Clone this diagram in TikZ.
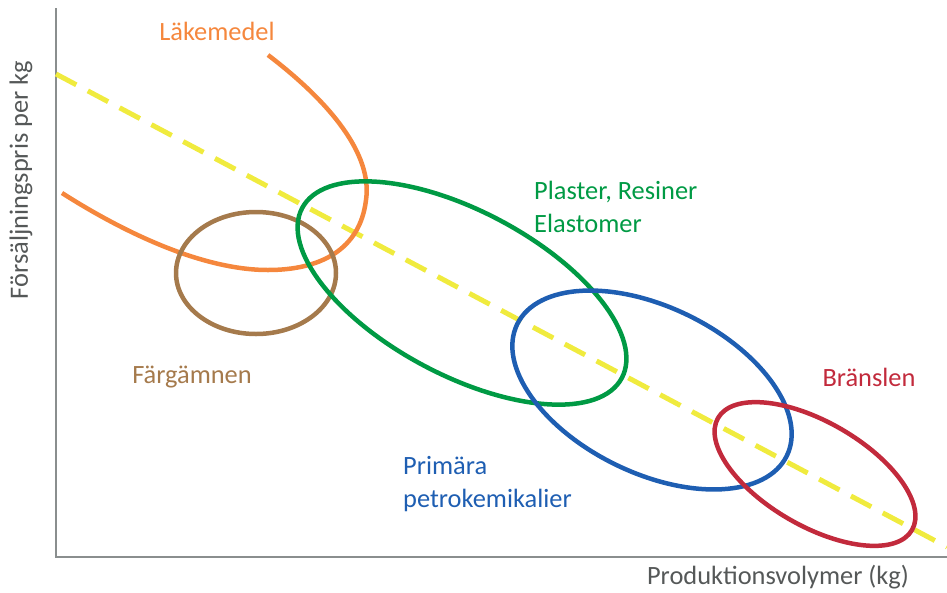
\documentclass[tikz,border=0pt]{standalone}
\usepackage{fontspec}
\setmainfont{Carlito}
\usepackage{xcolor}
\usepackage{tikz}
\usetikzlibrary{positioning,%
  calc%
}

\definecolor{lakorange}{HTML}{F5873D}
\definecolor{plastgreen}{HTML}{009A44}
\definecolor{primblue}{HTML}{1E5EB2}
\definecolor{branred}{HTML}{C22A3C}
\definecolor{fargbrown}{HTML}{A57A4C}
\definecolor{trendyellow}{HTML}{F0EB3E}
\definecolor{axisgray}{HTML}{8A8E8E}
\definecolor{titlegray}{HTML}{555858}

\begin{document}
\begin{tikzpicture}[x=1pt,y=-1pt,
    group/.style={line width=4.5pt},
    grouplabel/.style={font=\fontsize{26.4}{33}\selectfont,inner sep=0pt,align=left},
    axistitle/.style={font=\fontsize{26.4}{30}\selectfont,text=titlegray,inner sep=0pt}]
            \useasboundingbox (0,0) rectangle (947,592);

            % axes
            \coordinate (origin) at (56,557);
            \coordinate (ytop) at (56,8);
            \coordinate (xend) at (947,557);
            \draw [axisgray, line width=1.6pt] (ytop) -- (origin) -- (xend);

            % trend
            \coordinate (trendstart) at (56,74);
            \coordinate (trendend) at (947,547);
            \draw [trendyellow, line width=5pt, dash pattern=on 23pt off 13pt] (trendstart) -- (trendend);

            % groups
            \draw [group, lakorange] (268,55) .. controls (340,110) and (372,160) .. (366,200)
                .. controls (360,250) and (320,270) .. (268,270)
                .. controls (200,270) and (120,230) .. (62,193);
            \draw [group, fargbrown] (256,273) ellipse [x radius=80, y radius=61];
            \draw [group, plastgreen, rotate around={-28:(462,293)}] (462,293) ellipse [x radius=181, y radius=82];
            \draw [group, primblue, rotate around={-26:(652,390)}] (652,390) ellipse [x radius=150, y radius=83];
            \draw [group, branred, rotate around={-30:(815,474)}] (815,474) ellipse [x radius=112, y radius=52];

            % labels
            \node [grouplabel, text=lakorange] (lak) at (217,31) {Läkemedel};
            \node [grouplabel, text=plastgreen, anchor=west] (plast) at (534,207) {Plaster, Resiner\\Elastomer};
            \node [grouplabel, text=fargbrown] (farg) at (192,377) {Färgämnen};
            \node [grouplabel, text=primblue, anchor=west] (prim) at (403,484) {Primära\\petrokemikalier};
            \node [grouplabel, text=branred] (bran) at (869,377) {Bränslen};

            \node [axistitle] (xtitle) at (778,577) {Produktionsvolymer (kg)};
            \node [axistitle, rotate=90] (ytitle) at (21,180) {Försäljningspris per kg};
        \end{tikzpicture}
\end{document}
